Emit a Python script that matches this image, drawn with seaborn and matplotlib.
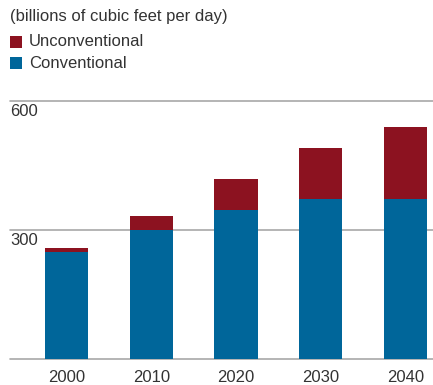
import matplotlib
matplotlib.use("Agg")
import matplotlib.pyplot as plt
import matplotlib.patches as mpatches
import seaborn as sns
import pandas as pd

years = ["2000", "2010", "2020", "2030", "2040"]
conventional = [250, 300, 347, 372, 372]
unconventional = [8, 33, 72, 119, 168]
y_ticks = [0, 300, 600]
unit_label = "(billions of cubic feet per day)"
series_names = ["Unconventional", "Conventional"]

RED = "#8c1220"
BLUE = "#00669a"
TEXT = "#333333"
GRID = "#a8a8a8"

sns.set_theme(style="white")
plt.rcParams["font.family"] = ["Liberation Sans", "DejaVu Sans"]

totals = [c + u for c, u in zip(conventional, unconventional)]
df = pd.DataFrame({"year": years, "total": totals, "conventional": conventional})

fig = plt.figure(figsize=(4.33, 3.85), dpi=100)
ax = fig.add_axes([10 / 433, 1 - 359 / 385, 423 / 433, 258 / 385])

sns.barplot(data=df, x="year", y="total", color=RED, width=0.51,
            saturation=1, linewidth=0, ax=ax, zorder=3)
sns.barplot(data=df, x="year", y="conventional", color=BLUE, width=0.51,
            saturation=1, linewidth=0, ax=ax, zorder=4)

ax.set_xlim(-0.667, 4.325)
ax.set_ylim(0, 600)
ax.set_yticks(y_ticks)
ax.set_yticklabels([])
ax.tick_params(axis="y", length=0)
ax.tick_params(axis="x", length=0, labelsize=12, labelcolor=TEXT, pad=8)
ax.set_xlabel("")
ax.set_ylabel("")
for s in ax.spines.values():
    s.set_visible(False)

for v in y_ticks:
    ax.axhline(v, color=GRID, lw=1.2, zorder=2, clip_on=False)
    if v > 0:
        ax.text(0, v - 8, str(v), transform=ax.get_yaxis_transform(),
                ha="left", va="top", fontsize=12, color=TEXT)

fig.text(10 / 433, 1 - 16 / 385, unit_label, ha="left", va="center",
         fontsize=12, color=TEXT)

for i, (name, col) in enumerate(zip(series_names, [RED, BLUE])):
    yc = 42 + i * 21
    fig.patches.append(mpatches.Rectangle((10 / 433, 1 - (yc + 6) / 385),
                                          12 / 433, 12 / 385,
                                          transform=fig.transFigure,
                                          facecolor=col, edgecolor="none"))
    fig.text(29 / 433, 1 - yc / 385, name, ha="left", va="center",
             fontsize=12, color=TEXT)

fig.savefig("out.png", dpi=100)
